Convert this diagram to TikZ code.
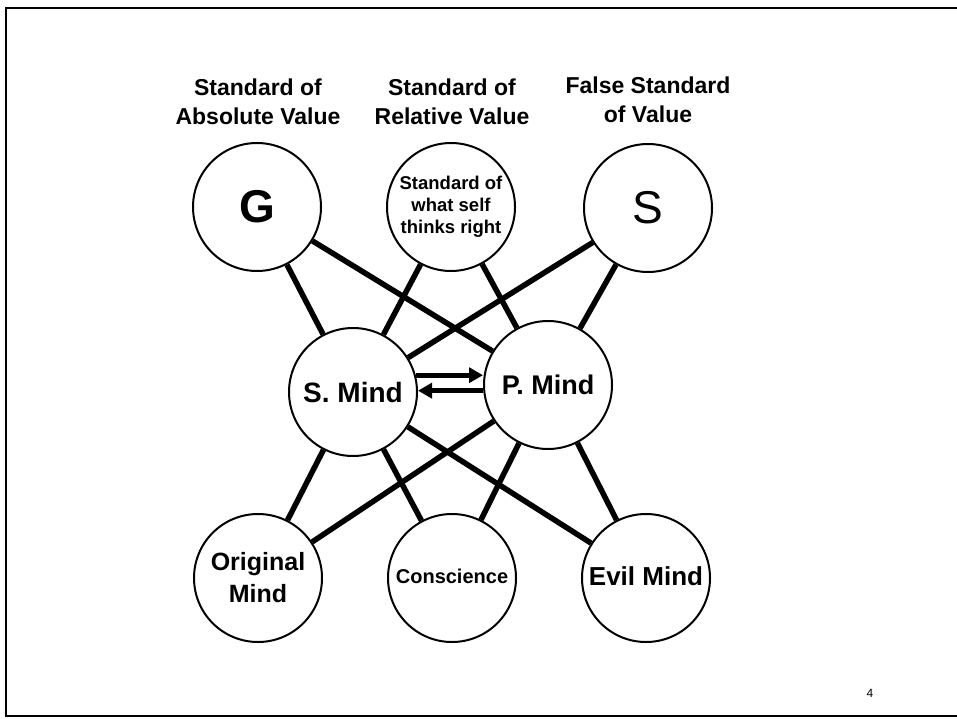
\documentclass[tikz,border=0pt]{standalone}
\usepackage{fontspec}
\setmainfont{Liberation Sans}
\usetikzlibrary{arrows.meta}
\tikzset{
  ball/.style={circle, draw, line width=2pt, minimum size=128pt, inner sep=0pt, align=center},
  link/.style={line width=5.5pt},
  arr/.style={line width=5pt, -{Triangle[length=14pt,width=15pt]}},
  ttl/.style={align=center, font=\bfseries\fontsize{23}{29}\selectfont}
}
\begin{document}
\begin{tikzpicture}[x=1pt,y=-1pt]
\useasboundingbox (0,0) rectangle (957,719);
\draw[line width=1.5pt] (957,8) -- (6,8) -- (6,716) -- (957,716);
% titles
\node[ttl] (t1) at (258,102) {Standard of\\Absolute Value};
\node[ttl] (t2) at (452,102) {Standard of\\Relative Value};
\node[ttl] (t3) at (648,100) {False Standard\\of Value};
% circles
\node[ball, font=\bfseries\fontsize{46}{50}\selectfont] (g) at (257,207) {G};
\node[ball, font=\bfseries\fontsize{18.5}{22}\selectfont] (st) at (451,207) {\raisebox{-3pt}{\begin{tabular}{@{}c@{}}Standard of\\what self\\thinks right\end{tabular}}};
\node[ball, font=\fontsize{46}{50}\selectfont] (s) at (648,208) {S};
\node[ball, font=\bfseries\fontsize{28}{32}\selectfont] (sm) at (353,392) {S. Mind};
\node[ball, font=\bfseries\fontsize{27}{32}\selectfont] (pm) at (548,385) {P. Mind};
\node[ball, font=\bfseries\fontsize{25}{32}\selectfont] (om) at (258,578) {Original\\Mind};
\node[ball, font=\bfseries\fontsize{20}{24}\selectfont] (co) at (452,578) {\raisebox{4pt}{Conscience}};
\node[ball, font=\bfseries\fontsize{26}{30}\selectfont] (em) at (646,578) {\raisebox{4pt}{Evil Mind}};
% connectors
\draw[link] (g) -- (sm);
\draw[link] (g) -- (pm);
\draw[link] (st) -- (sm);
\draw[link] (st) -- (pm);
\draw[link] (s) -- (sm);
\draw[link] (s) -- (pm);
\draw[link] (sm) -- (om);
\draw[link] (pm) -- (om);
\draw[link] (sm) -- (co);
\draw[link] (pm) -- (co);
\draw[link] (sm) -- (em);
\draw[link] (pm) -- (em);
% arrows
\coordinate (a1) at (sm.15);
\coordinate (a2) at (pm.185);
\draw[arr] (a1) -- (pm.west |- a1);
\draw[arr] (a2) -- (sm.east |- a2);
% page number
\node[font=\fontsize{12}{14}\selectfont] (pg) at (870,693) {4};
\end{tikzpicture}
\end{document}
